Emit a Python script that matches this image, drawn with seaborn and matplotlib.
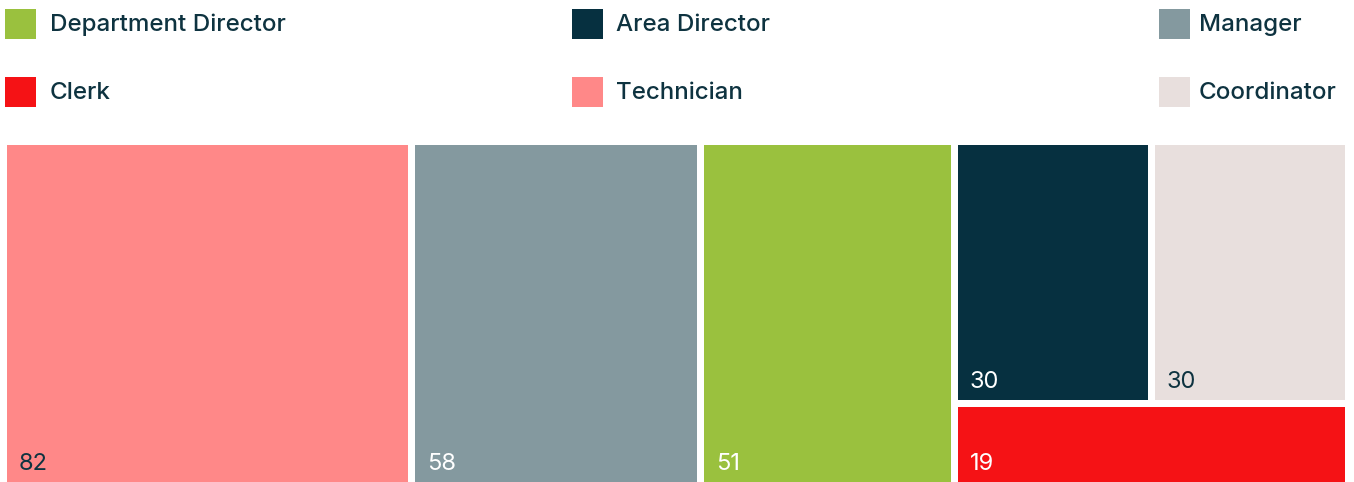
import matplotlib
matplotlib.use("Agg")
import matplotlib.pyplot as plt
from matplotlib.patches import Rectangle
import seaborn as sns

# treemap data (largest first)
roles = ["Technician", "Manager", "Department Director", "Area Director", "Coordinator", "Clerk"]
counts = [82, 58, 51, 30, 30, 19]

role_colors = {
    "Department Director": "#9AC13E",
    "Area Director": "#063040",
    "Manager": "#84999F",
    "Clerk": "#F51215",
    "Technician": "#FF8888",
    "Coordinator": "#E8DFDD",
}
label_colors = {
    "Technician": "#0E3340",
    "Coordinator": "#0E3340",
}
legend_order = ["Department Director", "Area Director", "Manager",
                "Clerk", "Technician", "Coordinator"]

sns.set_theme(style="white")
plt.rcParams["font.family"] = ["Inter", "DejaVu Sans"]
TEXT = "#0E3340"

W, H = 1354, 482
fig = plt.figure(figsize=(W / 100, H / 100), dpi=100)


def px_axes(left, top, right, bottom):
    return fig.add_axes([left / W, 1 - bottom / H, (right - left) / W, (bottom - top) / H])


# %% legend (manual, justified across the width)
lax = px_axes(0, 0, W, 130)
lax.set_xlim(0, W)
lax.set_ylim(130, 0)
lax.axis("off")
col_x = [5, 572, 1159]
text_off = [45, 44, 40]
row_y = [24, 92]
for k, name in enumerate(legend_order):
    c = k % 3
    x, y = col_x[c], row_y[k // 3]
    lax.add_patch(Rectangle((x, y - 15.5), 31, 31, color=role_colors[name], lw=0))
    lax.text(x + text_off[c], y + 1, name, fontsize=17.4, fontweight="medium", color=TEXT,
             va="center", ha="left")

# %% treemap: three full-height columns, then a block with two on top and one below
gap = 7  # px of white between cells
ax = px_axes(6 - gap / 2, 144 - gap / 2, 1344 + gap / 2, 482 + gap / 2)
total = sum(counts)
ax.set_xlim(0, total)
ax.set_ylim(0, 1)
ax.axis("off")

cells = []
x = 0
for name, v in zip(roles[:3], counts[:3]):
    cells.append((name, v, x, 0, v, 1))
    x += v
rest = sum(counts[3:])
top = counts[3] + counts[4]
h_top = top / rest
xx = x
for name, v in zip(roles[3:5], counts[3:5]):
    w = v / top * rest
    cells.append((name, v, xx, 1 - h_top, w, h_top))
    xx += w
cells.append((roles[5], counts[5], x, 0, rest, 1 - h_top))

lw_pt = gap * 72 / 100
for name, v, x0, y0, w, h in cells:
    ax.bar(x0, h, width=w, bottom=y0, align="edge", color=role_colors[name],
           edgecolor="white", linewidth=lw_pt)
    ax.annotate(str(v), xy=(x0, y0), xytext=(16, 15), textcoords="offset pixels",
                fontsize=17, color=label_colors.get(name, "white"),
                ha="left", va="baseline")

fig.savefig("out.png", dpi=100)
